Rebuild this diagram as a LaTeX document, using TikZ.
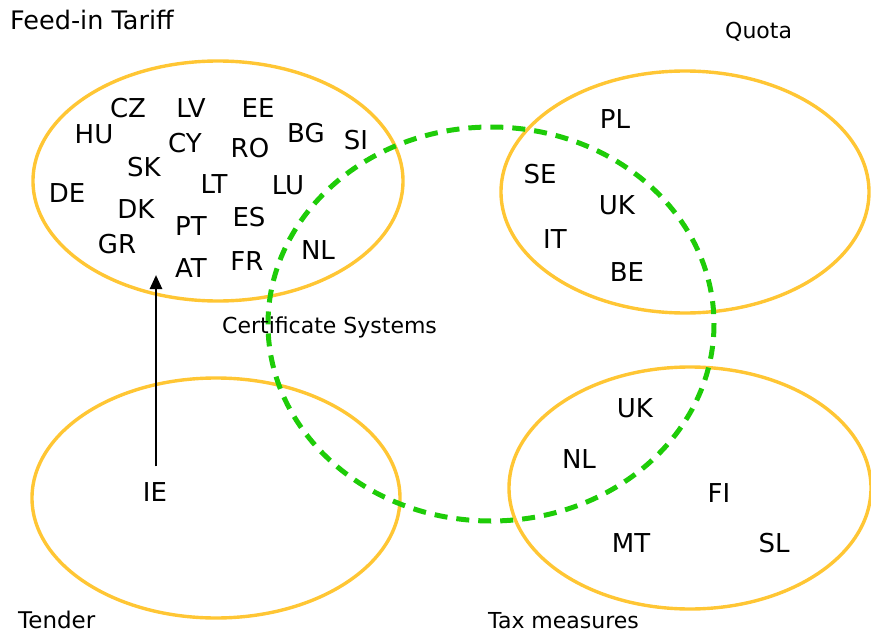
\documentclass[tikz,border=0pt]{standalone}
\usepackage{fontspec}
\setmainfont{DejaVu Sans}
\usetikzlibrary{arrows.meta}
\definecolor{setyellow}{RGB}{255,198,52}
\definecolor{certgreen}{RGB}{30,204,8}
\tikzset{
  setring/.style={draw=setyellow, line width=3.4pt},
  certring/.style={draw=certgreen, line width=5pt, dash pattern=on 13pt off 9pt},
  cty/.style={inner sep=0pt, font=\fontsize{26}{30}\selectfont},
  ttl/.style={inner sep=0pt, anchor=base west, font=\fontsize{22}{26}\selectfont},
  link/.style={draw=black, line width=2.6pt, -{Triangle[length=14pt,width=12pt]}}
}
\begin{document}
\begin{tikzpicture}[x=1pt,y=-1pt]
\useasboundingbox (0,0) rectangle (871,637);
% set ellipses
\draw[setring] (218,181) ellipse [x radius=185, y radius=120];
\draw[setring] (685,192) ellipse [x radius=184, y radius=121];
\draw[setring] (216,498) ellipse [x radius=184, y radius=120];
\draw[setring] (690,488) ellipse [x radius=181, y radius=121];
\draw[certring] (491,324) ellipse [x radius=223, y radius=197];
% titles
\node[ttl, font=\fontsize{25.5}{30}\selectfont] (tfit) at (10,30) {Feed-in Tariff};
\node[ttl] (tquota) at (725,38) {Quota};
\node[ttl] (tcert) at (222,333) {Certificate Systems};
\node[ttl, font=\fontsize{23}{28}\selectfont] (ttender) at (18,628) {Tender};
\node[ttl] (ttax) at (488,628) {Tax measures};
% Feed-in tariff countries
\node[cty] (cz) at (128,108) {CZ};
\node[cty] (lv) at (191,108) {LV};
\node[cty] (ee) at (258,108) {EE};
\node[cty] (hu) at (94,134) {HU};
\node[cty] (cy) at (185,143) {CY};
\node[cty] (ro) at (250,148) {RO};
\node[cty] (bg) at (306,133) {BG};
\node[cty] (si) at (356,140) {SI};
\node[cty] (sk) at (144,167) {SK};
\node[cty] (lt) at (214,184) {LT};
\node[cty] (lu) at (288,185) {LU};
\node[cty] (de) at (67,193) {DE};
\node[cty] (dk) at (136,209) {DK};
\node[cty] (pt) at (191,226) {PT};
\node[cty] (es) at (249,217) {ES};
\node[cty] (gr) at (117,244) {GR};
\node[cty] (nla) at (318,250) {NL};
\node[cty] (at) at (191,268) {AT};
\node[cty] (fr) at (247,261) {FR};
% Quota
\node[cty] (pl) at (615,119) {PL};
\node[cty] (se) at (540,174) {SE};
\node[cty] (uka) at (617,205) {UK};
\node[cty] (it) at (555,239) {IT};
\node[cty] (be) at (627,272) {BE};
% Tax measures
\node[cty] (ukb) at (635,408) {UK};
\node[cty] (nlb) at (579,459) {NL};
\node[cty] (fi) at (719,493) {FI};
\node[cty] (mt) at (631,543) {MT};
\node[cty] (sl) at (774,543) {SL};
% Tender
\node[cty] (ie) at (155,492) {IE};
\coordinate (arrtip) at (156,275);
\draw[link] (ie.north -| arrtip) ++(0,-16) -- (arrtip);
\end{tikzpicture}
\end{document}
